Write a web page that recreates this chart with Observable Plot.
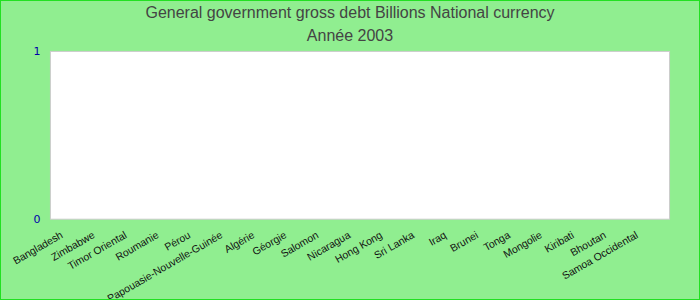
<!DOCTYPE html>
<html><head><meta charset="utf-8">
<script src="https://cdn.jsdelivr.net/npm/d3@7"></script>
<script src="https://cdn.jsdelivr.net/npm/@observablehq/plot@0.6"></script>
<style>
body{margin:0;}
#wrap{position:relative;width:700px;height:300px;background:#90ee90;box-sizing:border-box;border:1px solid #22e022;overflow:hidden;font-family:"Liberation Sans",Arial,sans-serif;}
.t{position:absolute;left:0;width:100%;text-align:center;color:#444;font-size:16px;}
#chart{position:absolute;left:-1px;top:-1px;}
</style></head>
<body>
<div id="wrap">
<div class="t" style="top:3px">General government gross debt Billions National currency</div>
<div class="t" style="top:26px">Année 2003</div>
<div id="chart"></div>
</div>
<script>
const countries = ["Bangladesh","Zimbabwe","Timor Oriental","Roumanie","Pérou","Papouasie-Nouvelle-Guinée","Algérie","Géorgie","Salomon","Nicaragua","Hong Kong","Sri Lanka","Iraq","Brunei","Tonga","Mongolie","Kiribati","Bhoutan","Samoa Occidental"];
const values = [0,0,0,0,0,0,0,0,0,0,0,0,0,0,0,0,0,0,0];
const yTicks = [0,1];
const data = countries.map((c,i)=>({country:c, value:values[i]}));
const chart = Plot.plot({
  width:700, height:300,
  marginTop:51, marginBottom:81, marginLeft:50, marginRight:30,
  style:{background:"transparent", fontFamily:"Liberation Sans, Arial, sans-serif", fontSize:"10.5px", overflow:"visible"},
  x:{domain:countries, label:null, padding:0.1},
  y:{domain:[0,1], label:null},
  marks:[
    Plot.frame({fill:"white", stroke:"#cccccc"}),
    Plot.barY(data,{x:"country", y:"value", fill:"#4472c4"}),
    Plot.axisY({ticks:yTicks, tickSize:0, tickPadding:10, tickFormat:d=>String(d), fill:"#0000aa", fontFamily:"DejaVu Sans", fontSize:11}),
    Plot.axisX({tickSize:0, tickPadding:15, dx:-11, tickRotate:-30, fill:"#111", fontSize:10.5})
  ]
});
document.getElementById("chart").appendChild(chart);
</script>
</body></html>
